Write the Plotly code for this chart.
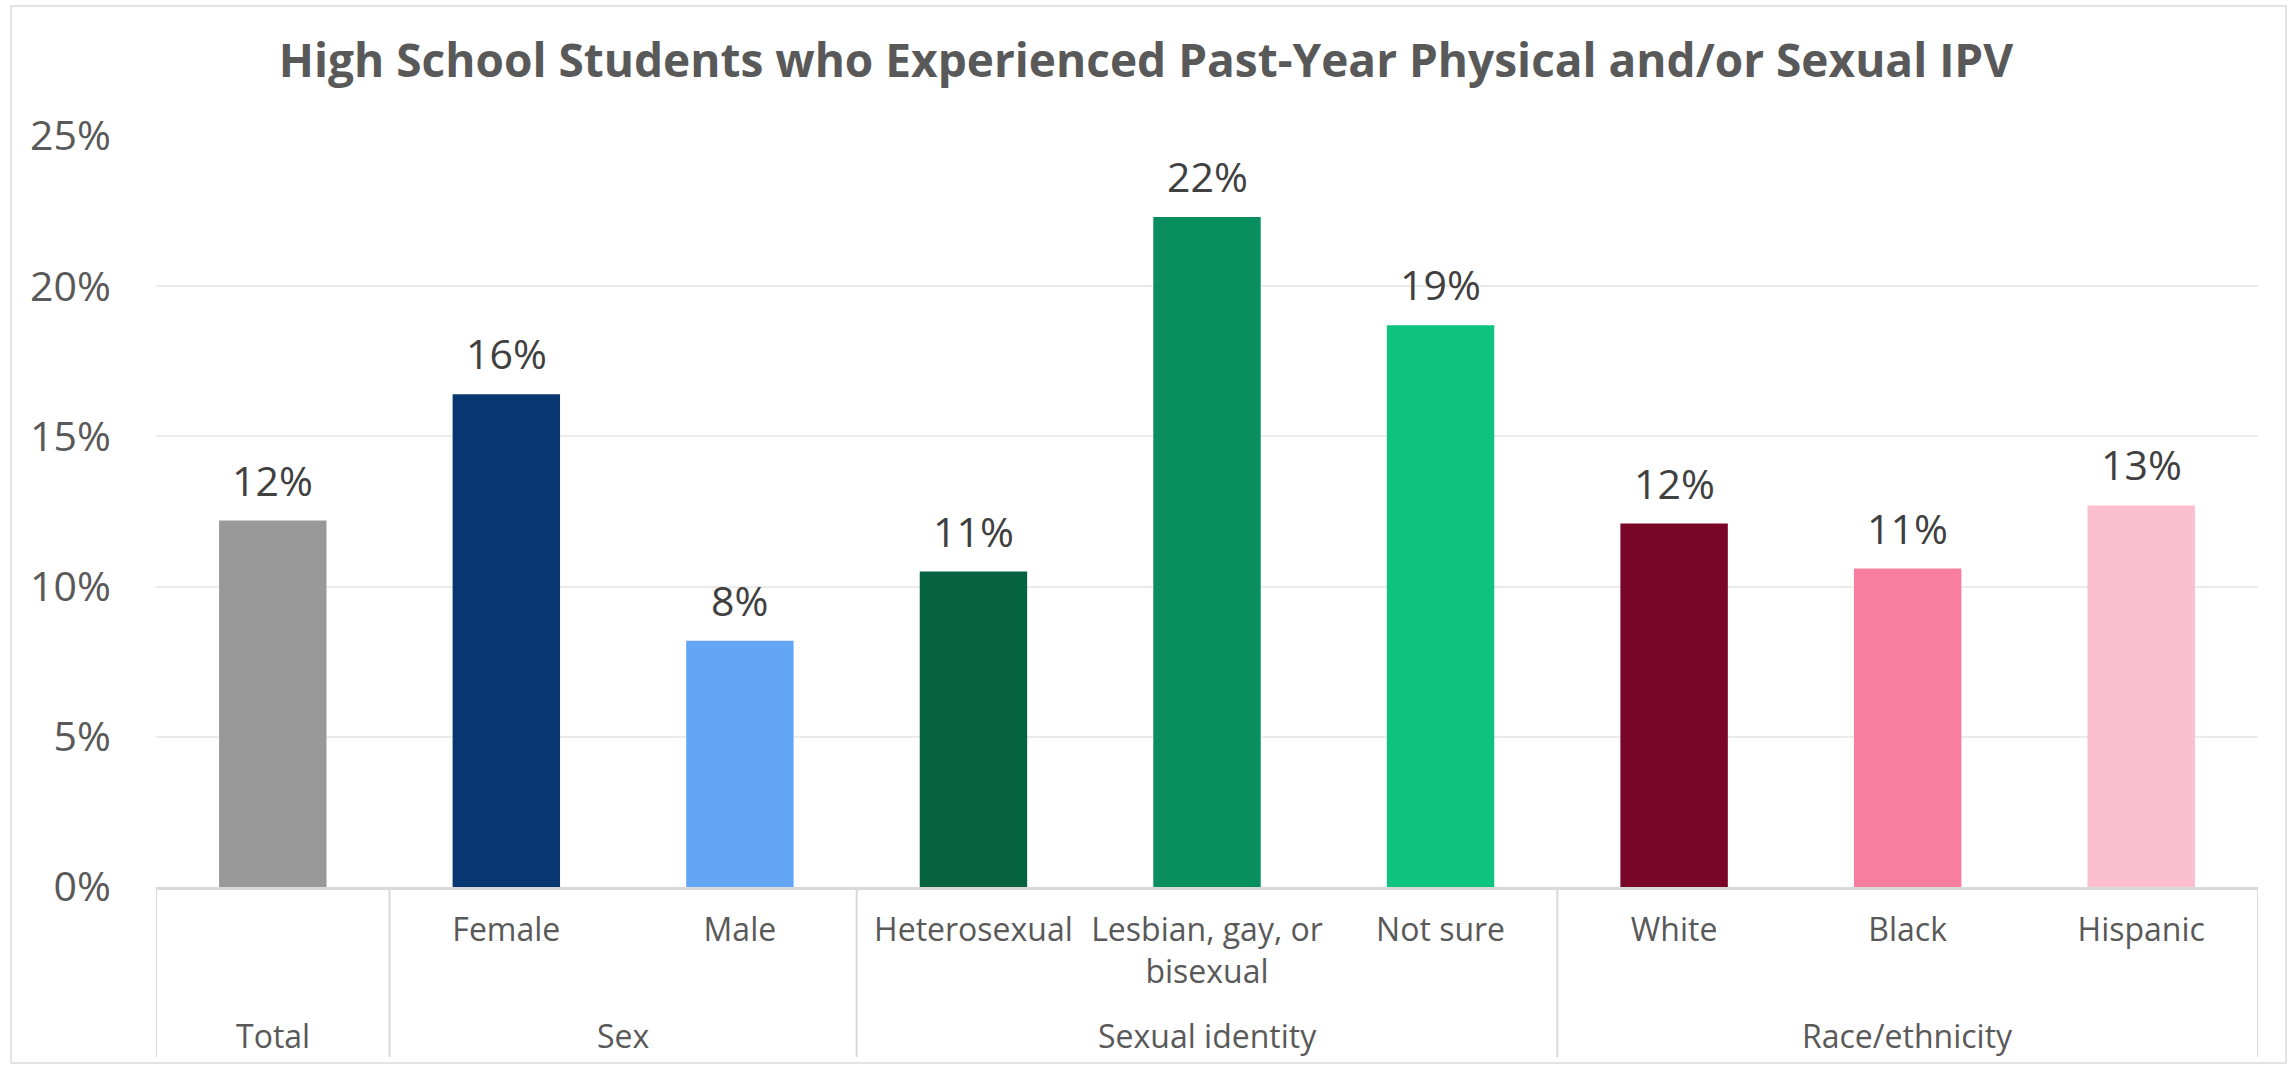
import math
import plotly.graph_objects as go

# ---- data ----
categories = ["Total", "Female", "Male", "Heterosexual", "Lesbian, gay, or<br>bisexual",
              "Not sure", "White", "Black", "Hispanic"]
tick_labels = ["", "Female", "Male", "Heterosexual", "Lesbian, gay, or<br>bisexual",
               "Not sure", "White", "Black", "Hispanic"]
values = [12.2, 16.4, 8.2, 10.5, 22.3, 18.7, 12.1, 10.6, 12.7]
groups = ["Total", "Sex", "Sexual identity", "Race/ethnicity"]
group_sizes = [1, 2, 3, 3]
colors = ["#999999", "#073670", "#63A6F6", "#066341", "#098F5F",
          "#0DC37F", "#790628", "#F77EA0", "#FBBDD0"]
y_ticks = [0, 5, 10, 15, 20, 25]
title = "High School Students who Experienced Past-Year Physical and/or Sexual IPV"

W, H = 2292, 1065
ML, MR, MT, MB = 156, 34, 136, 178
PW, PH = W - ML - MR, H - MT - MB

def py(px):  # pixel y (from top) -> paper y
    return (H - MB - px) / PH

def pxx(px):  # pixel x -> paper x
    return (px - ML) / PW

FONT = "Open Sans"

fig = go.Figure()
fig.add_trace(go.Bar(
    x=list(range(len(categories))), y=values,
    marker=dict(color=colors, line=dict(width=0)),
    width=0.46, hoverinfo="skip", showlegend=False,
))

annotations = []
# data labels
for i, v in enumerate(values):
    annotations.append(dict(
        x=i, y=v, xref="x", yref="y", text=f"{math.floor(v + 0.5)}%",
        showarrow=False, yanchor="bottom", yshift=11,
        font=dict(family=FONT, size=41, color="#404040"),
    ))

# group labels and dividers
shapes = []
start = 0
bounds = [-0.5]
for g, n in zip(groups, group_sizes):
    center = start + (n - 1) / 2
    annotations.append(dict(
        x=center, y=py(1035), xref="x", yref="paper", text=g,
        showarrow=False, yanchor="middle",
        font=dict(family=FONT, size=32, color="#595959"),
    ))
    start += n
    bounds.append(start - 0.5)
for b in bounds:
    shapes.append(dict(type="line", xref="x", yref="paper", x0=b, x1=b,
                       y0=0, y1=py(1057), line=dict(color="#d9d9d9", width=2)))

# outer chart border
shapes.append(dict(type="rect", xref="paper", yref="paper",
                   x0=pxx(11), x1=pxx(2286), y0=py(1063), y1=py(6),
                   line=dict(color="#e3e3e3", width=2), fillcolor="rgba(0,0,0,0)",
                   layer="below"))

fig.update_layout(
    width=W, height=H,
    margin=dict(l=ML, r=MR, t=MT, b=MB, pad=0),
    paper_bgcolor="white", plot_bgcolor="white",
    title=dict(text=f"<b>{title}</b>", x=0.5, xanchor="center",
               y=1 - 61 / H, yanchor="middle", yref="container",
               font=dict(family=FONT, size=46, color="#595959")),
    xaxis=dict(
        tickmode="array", tickvals=list(range(len(categories))), ticktext=tick_labels,
        range=[-0.5, len(categories) - 0.5],
        showgrid=False, zeroline=False,
        showline=True, linecolor="#d9d9d9", linewidth=3,
        ticks="outside", ticklen=13, tickcolor="rgba(0,0,0,0)",
        tickfont=dict(family=FONT, size=32, color="#595959"),
        fixedrange=True,
    ),
    yaxis=dict(
        range=[0, 25], tickmode="array", tickvals=y_ticks,
        ticktext=[f"{t}%" for t in y_ticks],
        showgrid=True, gridcolor="#ebebeb", gridwidth=2,
        zeroline=False, showline=False,
        ticks="outside", ticklen=36, tickcolor="rgba(0,0,0,0)",
        tickfont=dict(family=FONT, size=41, color="#595959"),
        fixedrange=True,
    ),
    annotations=annotations,
    shapes=shapes,
    bargap=0.54,
)

fig.write_html("out.html", config={"displayModeBar": False},
               post_script="document.body.style.margin='0px';document.body.style.overflow='hidden';")
